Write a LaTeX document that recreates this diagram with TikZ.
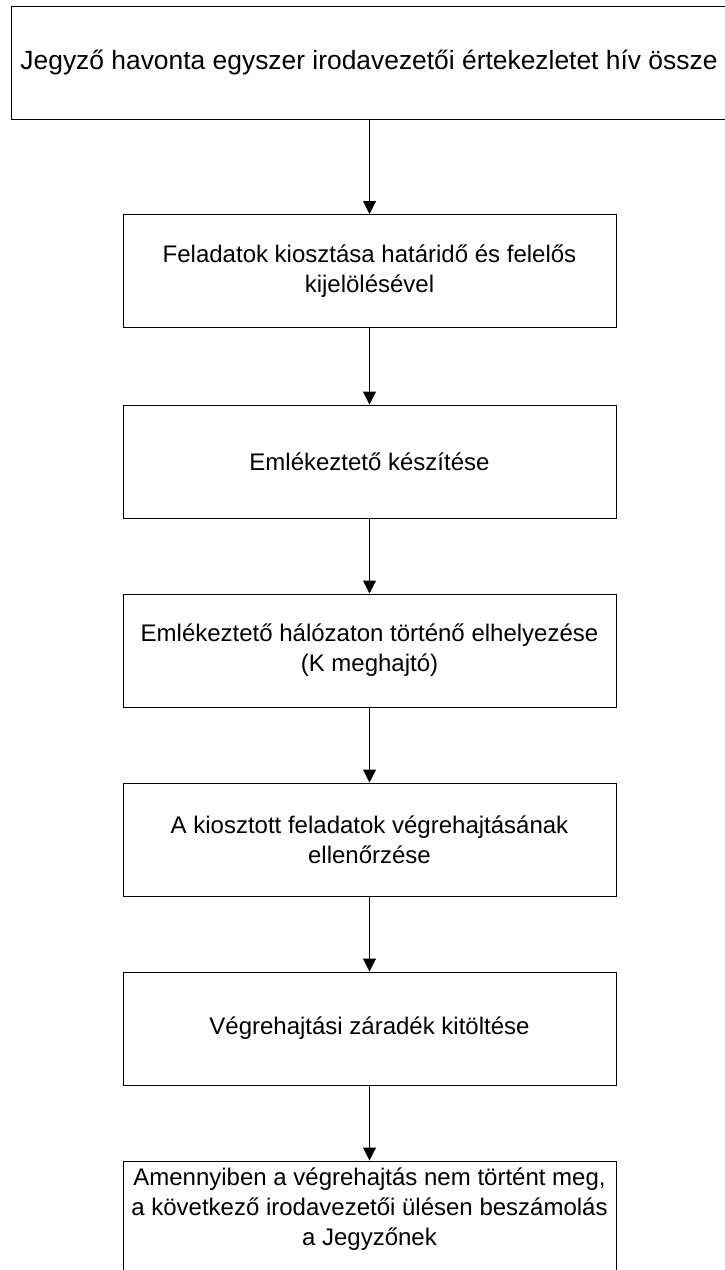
\documentclass[tikz,border=0pt]{standalone}
\usepackage{fontspec}
\setmainfont{Liberation Sans}
\usetikzlibrary{arrows.meta}
\begin{document}
\begin{tikzpicture}[x=1pt,y=-1pt,
  stepbox/.style={draw=black,line width=1pt,rectangle,inner sep=0pt,
    minimum width=493pt,minimum height=113pt},
  boxtext/.style={align=center,font=\fontsize{24}{30}\selectfont,text=black},
  flow/.style={draw=black,line width=1pt,-{Triangle[width=13pt,length=13pt]}}]
  \useasboundingbox (0,0) rectangle (725,1270);
  % head box, running past the right edge of the page
  \node[draw=black,line width=1pt,rectangle,inner sep=0pt,
        minimum width=740pt,minimum height=113pt] (b1) at (381,62.5) {};
  \node[font=\fontsize{26.4}{32}\selectfont] (t1) at (369,62.5)
        {Jegyző havonta egyszer irodavezetői értekezletet hív össze};
  % process steps
  \node[stepbox] (b2) at (369.5,271) {};
  \node[boxtext] (t2) at (b2) {Feladatok kiosztása határidő és felelős\\kijelölésével};
  \node[stepbox] (b3) at (369.5,461.5) {};
  \node[boxtext] (t3) at (b3) {Emlékeztető készítése};
  \node[stepbox] (b4) at (369.5,650.5) {};
  \node[boxtext] (t4) at (b4) {Emlékeztető hálózaton történő elhelyezése\\(K meghajtó)};
  \node[stepbox] (b5) at (369.5,839.5) {};
  \node[boxtext] (t5) at (b5) {A kiosztott feladatok végrehajtásának\\ellenőrzése};
  \node[stepbox] (b6) at (369.5,1028.5) {};
  \node[boxtext] (t6) at (b6) {Végrehajtási záradék kitöltése};
  % last step, cut off by the lower edge
  \node[stepbox,minimum height=130pt] (b7) at (369.5,1226) {};
  \node[boxtext] (t7) at (369.5,1209)
        {Amennyiben a végrehajtás nem történt meg,\\a következő irodavezetői ülésen beszámolás\\a Jegyzőnek};
  % connectors
  \draw[flow] (b1.south -| b2.north) -- (b2.north);
  \draw[flow] (b2.south) -- (b3.north);
  \draw[flow] (b3.south) -- (b4.north);
  \draw[flow] (b4.south) -- (b5.north);
  \draw[flow] (b5.south) -- (b6.north);
  \draw[flow] (b6.south) -- (b7.north);
\end{tikzpicture}
\end{document}
